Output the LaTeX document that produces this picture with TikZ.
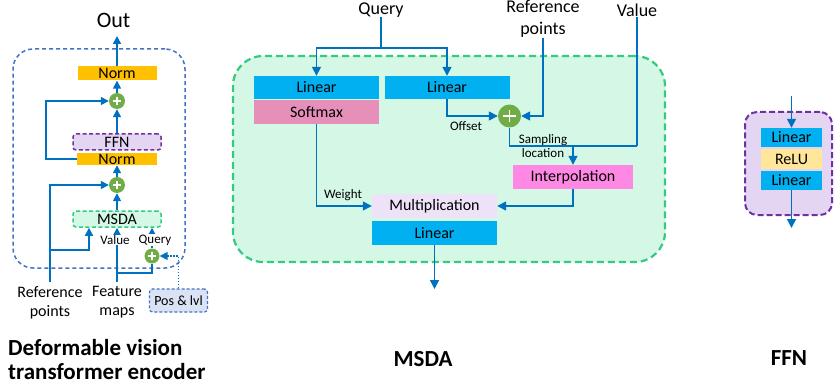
\documentclass[tikz,border=0pt]{standalone}
\usepackage{fontspec}
\setmainfont{Carlito}
\usetikzlibrary{arrows.meta}
\definecolor{lblue}{HTML}{0070C0}
\definecolor{cyanbox}{HTML}{00B0F0}
\definecolor{normor}{HTML}{FFC000}
\definecolor{pgreen}{HTML}{70AD47}
\definecolor{softpink}{HTML}{E68FB8}
\definecolor{interpk}{HTML}{FF88E4}
\definecolor{multlav}{HTML}{EDE2F8}
\definecolor{reluc}{HTML}{FFE699}
\definecolor{mint}{HTML}{D4F7E6}
\definecolor{mintedge}{HTML}{33CC7F}
\definecolor{purp}{HTML}{7030A0}
\definecolor{lavfill}{HTML}{E4D5F3}
\definecolor{encblue}{HTML}{4472C4}
\definecolor{posfill}{HTML}{DAE3F3}
\tikzset{
  f13/.style={font=\fontsize{13}{16}\selectfont},
  f14/.style={font=\fontsize{14}{17}\selectfont},
  f16/.style={font=\fontsize{16}{19.5}\selectfont},
  f18/.style={font=\fontsize{18}{22}\selectfont},
  f22/.style={font=\fontsize{22}{26}\selectfont},
  ftitle/.style={font=\fontsize{23}{24}\selectfont\bfseries},
  lbl/.style={inner sep=0pt, align=center},
  blk/.style={draw=none, inner sep=0pt, f16},
  flow/.style={draw=lblue, line width=1.5pt, -{Triangle[length=9pt,width=9pt]}},
  flows/.style={draw=lblue, line width=1.5pt, -{Triangle[length=8pt,width=8pt]}},
  plain/.style={draw=lblue, line width=1.5pt},
  plusnode/.style={circle, fill=pgreen, inner sep=0pt, minimum size=#1,
    path picture={
      \draw[white, line width=1.5pt] ([xshift=-0.28*#1]path picture bounding box.center) -- ([xshift=0.28*#1]path picture bounding box.center);
      \draw[white, line width=1.5pt] ([yshift=-0.28*#1]path picture bounding box.center) -- ([yshift=0.28*#1]path picture bounding box.center);
    }},
}
\begin{document}
\begin{tikzpicture}[x=1pt,y=-1pt]
\useasboundingbox (0,0) rectangle (834,390);

% ================= Left panel =================
\node[draw=encblue, line width=1.5pt, dash pattern=on 4pt off 3pt, rounded corners=20pt,
      minimum width=172pt, minimum height=219pt, inner sep=0pt] (enc) at (99,158.5) {};
\node[lbl, f22] (out) at (113.5,20) {Out};
\coordinate (outtip) at (117,36);
\node[blk, fill=normor, minimum width=79pt, minimum height=14pt] (norm1) at (117,73.5) {Norm};
\node[plusnode=16pt] (plus1) at (117,101) {};
\node[blk, draw=purp, fill=lavfill, line width=1.5pt, dash pattern=on 4pt off 2.5pt, rounded corners=3pt,
      minimum width=88pt, minimum height=16pt] (ffnl) at (117,142) {FFN};
\node[blk, fill=normor, minimum width=80pt, minimum height=12pt] (norm2) at (117,159) {Norm};
\node[plusnode=16pt] (plus2) at (117,185) {};
\node[blk, draw=mintedge, fill=mint, line width=1.5pt, dash pattern=on 4pt off 2.5pt, rounded corners=3pt,
      minimum width=88pt, minimum height=16pt] (msdal) at (117,219) {MSDA};
\node[plusnode=15pt] (plus3) at (152,256) {};
\node[blk, draw=encblue, fill=posfill, line width=1.2pt, dash pattern=on 3pt off 2pt, rounded corners=3pt,
      minimum width=58pt, minimum height=23pt, f14] (pos) at (178.5,300.5) {Pos \& lvl};
\node[lbl, f16, anchor=north] (refl) at (50,286) {Reference\\points};
\node[lbl, f16, anchor=north] (featl) at (117,286) {Feature\\maps};
\coordinate (rtop) at (50,282);
\coordinate (ftop) at (117,282);
\coordinate (rbr) at (50,250);
\coordinate (fbr) at (117,273);

\draw[flows] (norm1.north) -- (outtip);
\draw[flows] (plus1) -- (norm1.south);
\draw[flows] (ffnl.north) -- (plus1);
\draw[flows] (norm2.west) -- ++(-31,0) |- (plus1.west);
\draw[flows] (plus2) -- (norm2.south);
\draw[flows] (msdal.north) -- (plus2);
\draw[flows] (rtop) |- (plus2.west);
\draw[flows] (rbr) -| ([xshift=-28pt]msdal.south);
\draw[flows] (ftop) -- (msdal.south);
\node[lbl, f13, fill=white, inner sep=0.5pt] (vall) at (115,240) {Value};
\draw[plain] (fbr) -| (plus3.south);
\draw[flows] (plus3.north) -- (plus3.north |- msdal.south);
\node[lbl, f13, fill=white, inner sep=0.5pt] (qryl) at (155,240) {Query};
\draw[flows, dash pattern=on 1.5pt off 1.5pt] (pos.north) |- (plus3.east);

% ================= Middle panel (MSDA) =================
\node[draw=mintedge, fill=mint, line width=2.2pt, dash pattern=on 7pt off 4pt, rounded corners=30pt,
      minimum width=432pt, minimum height=206pt, inner sep=0pt] (msdabox) at (449,159) {};
\node[lbl, f18] (qtxt) at (381,10) {Query};
\node[lbl, f18, anchor=south] (rptxt) at (543,38) {Reference\\points};
\node[lbl, f18] (vtxt) at (637,10) {Value};
\node[blk, fill=cyanbox, minimum width=125pt, minimum height=23pt] (lin1) at (316.5,87.5) {Linear};
\node[blk, fill=softpink, minimum width=125pt, minimum height=24pt] (soft) at (316.5,112) {Softmax};
\node[blk, fill=cyanbox, minimum width=125pt, minimum height=23pt] (lin2) at (447,87.5) {Linear};
\node[plusnode=23pt] (plusm) at (509.5,116) {};
\node[blk, fill=interpk, minimum width=120pt, minimum height=24pt] (interp) at (573,177) {Interpolation};
\node[blk, fill=multlav, minimum width=125pt, minimum height=24pt] (mult) at (434.5,206) {Multiplication};
\node[blk, fill=cyanbox, minimum width=125pt, minimum height=24pt] (lin3) at (434.5,233) {Linear};
\node[lbl, f13] (offl) at (466,126) {Offset};
\node[lbl, f13] (wgtl) at (343,195) {Weight};
\node[lbl, f13, align=center] (sampl) at (543,146.5) {Sampling\\[-2pt]location};
\coordinate (qs) at (381,48);
\coordinate (vj) at (637,146);
\coordinate (msdaout) at (434.5,289);

\draw[plain] (qtxt.south) -- (qs);
\draw[flow] (qs) -| (lin1.north);
\draw[flow] (qs) -| (lin2.north);
\draw[flow] (lin2.south) |- (plusm.west);
\draw[flow] (rptxt.south) |- (plusm.east);
\draw[plain] (vtxt.south) -- (vj);
\draw[plain] (plusm.south) |- (vj);
\draw[flow] (interp.north |- vj) -- (interp.north);
\draw[flow] (interp.south) |- (mult.east);
\draw[flow] (soft.south) |- (mult.west);
\draw[flow] (lin3.south) -- (msdaout);

% ================= Right panel (FFN) =================
\node[draw=purp, fill=lavfill, line width=2pt, dash pattern=on 6pt off 3pt, rounded corners=12pt,
      minimum width=87pt, minimum height=103pt, inner sep=0pt] (ffnbox) at (788.5,163.5) {};
\node[blk, fill=cyanbox, minimum width=61pt, minimum height=19pt] (lina) at (791.5,137.5) {Linear};
\node[blk, fill=reluc, minimum width=61pt, minimum height=20pt] (relu) at (791.5,159) {ReLU};
\node[blk, fill=cyanbox, minimum width=61pt, minimum height=19pt] (linb) at (791.5,180.5) {Linear};
\coordinate (ffnin) at (791.5,96);
\coordinate (ffnout) at (791.5,228);
\draw[flow] (ffnin) -- (lina.north);
\draw[flow] (linb.south) -- (ffnout);

% ================= Titles =================
\node[lbl, ftitle, align=left, anchor=base west] (t1) at (8,379) {Deformable vision\\transformer encoder};
\node[lbl, ftitle] (t2) at (423,359) {MSDA};
\node[lbl, ftitle] (t3) at (789,358) {FFN};
\end{tikzpicture}
\end{document}
